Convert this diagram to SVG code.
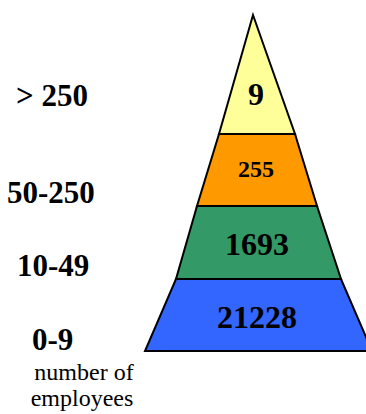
<svg xmlns="http://www.w3.org/2000/svg" width="366" height="414" viewBox="0 0 366 414">
<style>
.layer{stroke:#000;stroke-width:2;stroke-linejoin:miter}
.v{font-family:'Liberation Serif','Times New Roman',serif;font-weight:bold;fill:#000;text-anchor:middle}
.lab{font-family:'Liberation Serif','Times New Roman',serif;font-weight:bold;font-size:31px;fill:#000}
.cap{font-family:'Liberation Serif','Times New Roman',serif;font-weight:normal;font-size:24px;fill:#000;text-anchor:middle}
</style>
<rect width="366" height="414" fill="#fff"/>
<g id="layer-blue">
<polygon class="layer" fill="#3366FF" points="176,279 341,279 372,351 145,351"/>
<text class="v" x="257" y="328" font-size="32">21228</text>
</g>
<g id="layer-green">
<polygon class="layer" fill="#339966" points="197,206 317,206 341,279 176,279"/>
<text class="v" x="257" y="255" font-size="32">1693</text>
</g>
<g id="layer-orange">
<polygon class="layer" fill="#FF9900" points="219,134 295,134 317,206 197,206"/>
<text class="v" x="256" y="177" font-size="24">255</text>
</g>
<g id="layer-yellow">
<polygon class="layer" fill="#FFFF99" points="253,15 295,134 219,134"/>
<text class="v" x="256" y="105" font-size="32">9</text>
</g>
<g id="labels">
<text class="lab" x="16" y="106">&gt; 250</text>
<text class="lab" x="7" y="203">50-250</text>
<text class="lab" x="17" y="276">10-49</text>
<text class="lab" x="32" y="350">0-9</text>
<text class="cap" x="84" y="380">number of</text>
<text class="cap" x="82" y="406">employees</text>
</g>
</svg>
